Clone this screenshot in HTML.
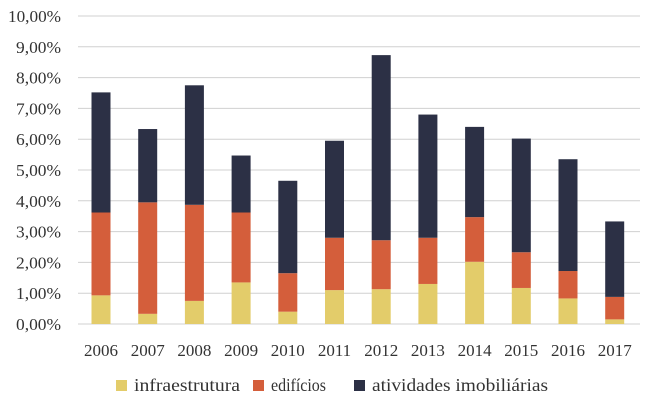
<!DOCTYPE html>
<html><head><meta charset="utf-8"><style>
body{margin:0;background:#fff;}
svg{display:block;font-family:"Liberation Serif",serif;}
</style></head><body>
<svg id="chart" width="653" height="401"></svg>
<script>
const years=["2006","2007","2008","2009","2010","2011","2012","2013","2014","2015","2016","2017"];
const infra=[0.93,0.33,0.75,1.35,0.40,1.10,1.13,1.30,2.02,1.17,0.83,0.15];
const edif=[2.69,3.62,3.12,2.27,1.25,1.70,1.59,1.50,1.45,1.16,0.89,0.73];
const ativ=[3.90,2.38,3.88,1.85,3.00,3.15,6.01,4.00,2.93,3.69,3.63,2.45];
const yTicks=[0,1,2,3,4,5,6,7,8,9,10];
const seriesNames=["infraestrutura","edifícios","atividades imobiliárias"];
const colors=["#e3cc6a","#d45e3b","#2c3045"];
const NS="http://www.w3.org/2000/svg";
const svg=document.getElementById('chart');
const x0=78,x1=640,y0=324,pxPer=30.8,step=46.7,bw=19;
function yS(v){return y0-v*pxPer;}
function xC(i){return 101+i*step;}
function mk(t,a,p){const e=document.createElementNS(NS,t);for(const k in a)e.setAttribute(k,a[k]);(p||svg).appendChild(e);return e;}
yTicks.forEach(t=>{
  const l=mk('line',{x1:x0,x2:x1,y1:yS(t),y2:yS(t),stroke:'#d0d0d0','stroke-width':1});
  
  
  const lbl=t.toFixed(2).replace('.',',')+'%';
  const tx=mk('text',{x:61,y:yS(t)+6,'text-anchor':'end','font-size':17,fill:'#333',textLength:(lbl.length===6?53:45),lengthAdjust:'spacingAndGlyphs'});
  tx.textContent=lbl;
  
  
});
years.forEach((yr,i)=>{
  let base=0;
  [infra,edif,ativ].forEach((s,k)=>{
    const v=s[i];
    const r=mk('rect',{x:xC(i)-bw/2,y:yS(base+v),width:bw,height:v*pxPer,fill:colors[k]});
    
    
    base+=v;
  });
  const tx=mk('text',{x:xC(i),y:356,'text-anchor':'middle','font-size':17,fill:'#333'});
  tx.textContent=yr;
  
  
});
const lx=[116,253,354];
const lw=[106,55,176];
seriesNames.forEach((n,k)=>{
  const g=mk('g',{});
  
  
  mk('rect',{x:lx[k],y:380,width:11,height:11,fill:colors[k]},g);
  const t=mk('text',{x:lx[k]+18,y:391,'font-size':18,fill:'#333',textLength:lw[k],lengthAdjust:'spacingAndGlyphs'},g);
  t.textContent=n;
});
</script>
</body></html>
